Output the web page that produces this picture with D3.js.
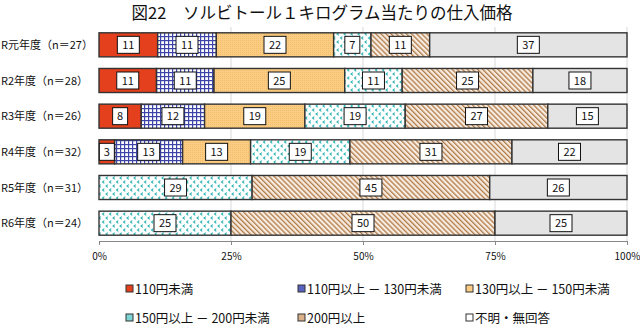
<!DOCTYPE html>
<html>
<head>
<meta charset="utf-8">
<title>図22</title>
<script src="https://cdn.jsdelivr.net/npm/d3@7"></script>
<style>
  body { margin: 0; background: #fff; }
  text { font-family: "Noto Sans CJK JP", "Noto Sans", sans-serif; fill: #111; }
</style>
</head>
<body>
<script>
// data (percent labels)
var years = ["R元年度（n＝27）", "R2年度（n＝28）", "R3年度（n＝26）",
             "R4年度（n＝32）", "R5年度（n＝31）", "R6年度（n＝24）"];
var cats = ["110円未満", "110円以上 － 130円未満", "130円以上 － 150円未満",
            "150円以上 － 200円未満", "200円以上", "不明・無回答"];
var under110 = [11, 11, 8, 3, 0, 0];
var p110to130 = [11, 11, 12, 13, 0, 0];
var p130to150 = [22, 25, 19, 13, 0, 0];
var p150to200 = [7, 11, 19, 19, 29, 25];
var over200 = [11, 25, 27, 31, 45, 50];
var unknown = [37, 18, 15, 22, 26, 25];
var ticks = [0, 0.25, 0.5, 0.75, 1];

var series = [under110, p110to130, p130to150, p150to200, over200, unknown];
var rows = years.map(function (y, i) {
    var r = { year: y };
    cats.forEach(function (c, j) { r[c] = series[j][i]; });
    return r;
});

var width = 640, height = 325;
var svg = d3.select("body").append("svg")
    .attr("width", width)
    .attr("height", height);

// patterns
var defs = svg.append("defs");

var pg = defs.append("pattern").attr("id", "grid")
    .attr("patternUnits", "userSpaceOnUse").attr("width", 4).attr("height", 4);
pg.append("rect").attr("width", 4).attr("height", 4).attr("fill", "#fff");
pg.append("rect").attr("x", 0).attr("y", 0).attr("width", 4).attr("height", 1.2).attr("fill", "#3c44a8");
pg.append("rect").attr("x", 0).attr("y", 0).attr("width", 1.2).attr("height", 4).attr("fill", "#3c44a8");

var po = defs.append("pattern").attr("id", "orange")
    .attr("patternUnits", "userSpaceOnUse").attr("width", 2).attr("height", 2);
po.append("rect").attr("width", 2).attr("height", 2).attr("fill", "#fbcd84");
po.append("rect").attr("width", 1).attr("height", 1).attr("fill", "#f3bd6a");

var pt = defs.append("pattern").attr("id", "teal")
    .attr("patternUnits", "userSpaceOnUse").attr("width", 7).attr("height", 8);
pt.append("rect").attr("width", 7).attr("height", 8).attr("fill", "#fff");
pt.append("path").attr("d", "M2.8,0.6 L1,2 L2.8,3.4 M6.3,4.6 L4.5,6 L6.3,7.4")
    .attr("stroke", "#2bb3b3").attr("stroke-width", 1.1).attr("fill", "none");

var ps = defs.append("pattern").attr("id", "stripe")
    .attr("patternUnits", "userSpaceOnUse").attr("width", 3.6).attr("height", 4)
    .attr("patternTransform", "rotate(-45)");
ps.append("rect").attr("width", 3.6).attr("height", 4).attr("fill", "#f8ece0");
ps.append("rect").attr("width", 1.3).attr("height", 4).attr("fill", "#b07a48");

var fills = ["#e5401d", "url(#grid)", "url(#orange)", "url(#teal)", "url(#stripe)", "#e4e4e4"];
var swatch = ["#e5401d", "#5a62c0", "#fbcd84", "#7fd4d4", "#d8b08a", "#fff"];

var x = d3.scaleLinear().domain([0, 1]).range([99, 627]);
var y = d3.scaleBand().domain(years).range([27, 241])
    .paddingInner(0.326).paddingOuter(0.163);

// title
svg.append("text")
    .attr("x", 322).attr("y", 19)
    .attr("text-anchor", "middle")
    .style("font-size", "16.5px")
    .text("図22　ソルビトール１キログラム当たりの仕入価格");

// gridlines
svg.append("g").selectAll("line")
    .data(ticks.slice(1))
    .join("line")
    .attr("x1", function (d) { return x(d); })
    .attr("x2", function (d) { return x(d); })
    .attr("y1", 27).attr("y2", 241)
    .attr("stroke", "#d9d9d9").attr("stroke-width", 1);

var stack = d3.stack().keys(cats).offset(d3.stackOffsetExpand);
var stacked = stack(rows);

var layer = svg.append("g").selectAll("g")
    .data(stacked)
    .join("g")
    .attr("fill", function (d, i) { return fills[i]; });

layer.selectAll("rect")
    .data(function (d) { return d.filter(function (p) { return p[1] > p[0]; }); })
    .join("rect")
    .attr("x", function (d) { return x(d[0]); })
    .attr("y", function (d) { return y(d.data.year); })
    .attr("width", function (d) { return x(d[1]) - x(d[0]); })
    .attr("height", y.bandwidth())
    .attr("stroke", "#333")
    .attr("stroke-width", 1.4);

// value boxes
var labels = svg.append("g");
stacked.forEach(function (s) {
    s.forEach(function (p) {
        var v = p.data[s.key];
        if (!v) return;
        var cx = (x(p[0]) + x(p[1])) / 2;
        var cy = y(p.data.year) + y.bandwidth() / 2;
        var w = String(v).length > 1 ? 22 : 15;
        labels.append("rect")
            .attr("x", cx - w / 2).attr("y", cy - 8.5)
            .attr("width", w).attr("height", 17)
            .attr("fill", "#fff").attr("stroke", "#111").attr("stroke-width", 1);
        labels.append("text")
            .attr("x", cx).attr("y", cy + 4)
            .attr("text-anchor", "middle")
            .style("font-size", "11px")
            .text(v);
    });
});

// category labels
svg.append("g").selectAll("text")
    .data(years)
    .join("text")
    .attr("x", 1)
    .attr("y", function (d) { return y(d) + y.bandwidth() / 2 + 4; })
    .style("font-size", "11px")
    .text(function (d) { return d; });

// x axis
var xAxis = svg.append("g")
    .attr("transform", "translate(0,241)")
    .call(d3.axisBottom(x).tickValues(ticks).tickSize(4)
        .tickFormat(function (d) { return Math.round(d * 100) + "%"; }));
xAxis.select(".domain").attr("stroke", "#888");
xAxis.selectAll(".tick line").attr("stroke", "#888");
xAxis.selectAll(".tick text")
    .attr("y", 12)
    .style("font-size", "10px")
    .attr("fill", "#111");

// legend
var lx = [126, 298, 466];
var ly = [289, 318];
var leg = svg.append("g").selectAll("g")
    .data(cats)
    .join("g")
    .attr("transform", function (d, i) {
        return "translate(" + lx[i % 3] + "," + ly[Math.floor(i / 3)] + ")";
    });
leg.append("rect")
    .attr("x", 0).attr("y", -4).attr("width", 7).attr("height", 7)
    .attr("fill", function (d, i) { return swatch[i]; })
    .attr("stroke", "#333").attr("stroke-width", 1);
leg.append("text")
    .attr("x", 9).attr("y", 4.5)
    .style("font-size", "12.5px")
    .text(function (d) { return d; });
</script>
</body>
</html>
